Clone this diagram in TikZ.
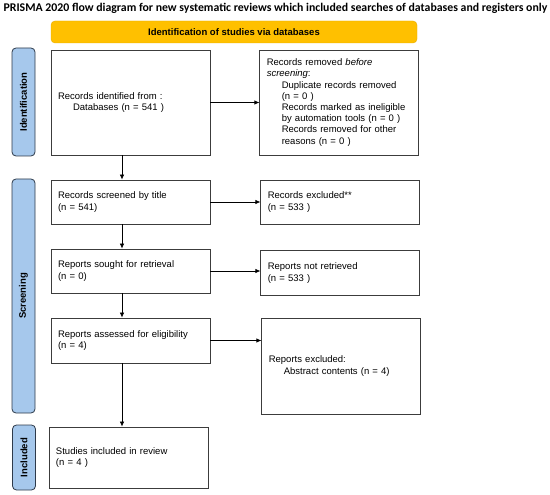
\documentclass[tikz,border=0pt]{standalone}
\usepackage{fontspec}
\setmainfont{Liberation Sans}
\newfontfamily\titlefont{Carlito}
\usetikzlibrary{positioning}
\usetikzlibrary{arrows.meta}
\definecolor{boxgray}{HTML}{3C3C3C}
\definecolor{phaseblue}{HTML}{A6C8EC}
\definecolor{phaseedge}{HTML}{2E3A4A}
\definecolor{headorange}{HTML}{FFC000}
\definecolor{headedge}{HTML}{E6AC00}
\tikzset{
	block/.style={
		draw=boxgray,
		line width=.8pt,
		rectangle,
		align=left,
		text width=145pt,
		inner xsep=7pt,
		inner ysep=4pt,
		font=\fontsize{9.5}{11.2}\selectfont
	},
	phase/.style={
		draw=phaseedge,
		fill=phaseblue,
		line width=.8pt,
		rounded corners=4pt,
		rotate=90,
		minimum height=23pt,
		inner sep=0pt,
		font=\bfseries\fontsize{9.5}{10}\selectfont
	},
	arr/.style={-{Latex[length=5pt,width=4.5pt]}, line width=.7pt, draw=black}
}
\newcommand{\ind}{\hspace*{15pt}}
\begin{document}
\begin{tikzpicture}[x=1pt,y=-1pt]
				\useasboundingbox (0,0) rectangle (550,495);
				\node[font=\titlefont\bfseries\fontsize{11.8}{13}\selectfont] (title) at (275.5,8) {PRISMA 2020 flow diagram for new systematic reviews which included searches of databases and registers only};
				\node[draw=headedge, fill=headorange, rounded corners=4pt, minimum width=366pt, minimum height=22pt, inner sep=0pt, font=\bfseries\fontsize{9.5}{10}\selectfont] (head) at (234,32) {Identification of studies via databases};
				
				% phases
				\node[phase, minimum width=108pt] (PhId) at (23.5,102) {Identification};
				\node[phase, minimum width=234pt] (PhScr) at (23.5,296) {Screening};
				\node[phase, minimum width=65pt] (PhInc) at (24,457.5) {Included};
				
				% left column
				\node[block, minimum height=105pt] (Ident) at (130.5,102.5) {Records identified from :\\ \ind Databases (n = 541 )\\[4pt]};
				\node[block, minimum height=44pt] (Scr) at (130.5,202) {Records screened by title\\ (n = 541)};
				\node[block, minimum height=44pt] (Sought) at (130.5,271) {Reports sought for retrieval\\ (n = 0)};
				\node[block, minimum height=45pt] (Assess) at (130.5,340.5) {Reports assessed for eligibility\\ (n = 4)};
				\node[block, minimum height=61pt] (Incl) at (128.5,457.5) {Studies included in review\\ (n = 4 )};
				
				% right column
				\node[block, minimum height=105pt, right=49pt of Ident] (Removed) {Records removed \textit{before}\\ \textit{screening}:\\ \ind Duplicate records removed\\ \ind (n = 0 )\\ \ind Records marked as ineligible\\ \ind by automation tools (n = 0 )\\ \ind Records removed for other\\ \ind reasons (n = 0 )};
				\node[block, minimum height=44pt, right=50pt of Scr] (Excl) {Records excluded**\\ (n = 533 )};
				\node[block, minimum height=45pt, right=50pt of Sought, yshift=-2pt] (NotRetr) {Reports not retrieved\\ (n = 533 )};
				\node[block, minimum height=96pt, anchor=north west] (RepExcl) at ([xshift=51pt]Assess.north east) {Reports excluded:\\ \ind Abstract contents (n = 4)\\[22pt]};
				
				\draw[arr] (Ident.east) -- (Ident.east -| Removed.west);
				\draw[arr] (Scr.east) -- (Scr.east -| Excl.west);
				\draw[arr] (Sought.east) -- (Sought.east -| NotRetr.west);
				\draw[arr] (Assess.east) -- (Assess.east -| RepExcl.west);
				
				\draw[arr] ([xshift=-8.5pt]Ident.south) -- ([xshift=-8.5pt]Ident.south |- Scr.north);
				\draw[arr] ([xshift=-8.5pt]Scr.south) -- ([xshift=-8.5pt]Scr.south |- Sought.north);
				\draw[arr] ([xshift=-8.5pt]Sought.south) -- ([xshift=-8.5pt]Sought.south |- Assess.north);
				\draw[arr] ([xshift=-8.5pt]Assess.south) -- ([xshift=-8.5pt]Assess.south |- Incl.north);
			\end{tikzpicture}
\end{document}
